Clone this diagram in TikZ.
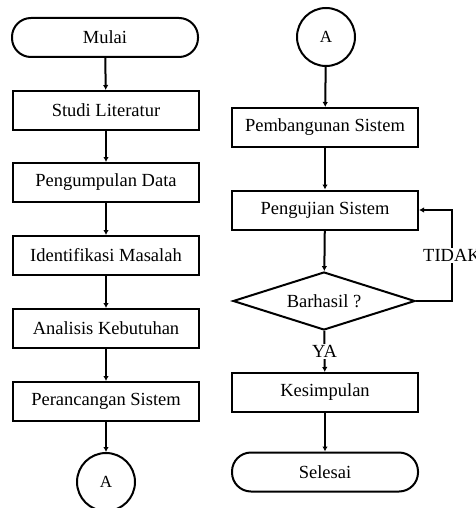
\documentclass[tikz,border=0pt]{standalone}
\usepackage{fontspec}
\setmainfont{Liberation Serif}
\usetikzlibrary{shapes.geometric,arrows.meta}
\begin{document}
\begin{tikzpicture}[x=1pt,y=-1pt,
  every node/.style={font=\fontsize{18.5}{20}\selectfont},
  process/.style={draw,line width=2pt,minimum width=186pt,minimum height=39pt,inner sep=0pt},
  terminal/.style={process,rounded corners=19pt},
  connector/.style={draw,circle,line width=2pt,minimum size=58pt,inner sep=0pt,font=\fontsize{17}{18}\selectfont},
  decision/.style={draw,diamond,aspect=3.14,line width=2pt,minimum width=182pt,minimum height=58pt,inner sep=0pt},
  flow/.style={line width=2pt,-{Latex[length=5pt,width=5.5pt]}},
  lbl/.style={fill=white,inner sep=1pt}]
\useasboundingbox[fill=white] (0,0) rectangle (475,508);

% left column
\node[terminal] (mulai) at (105,37.5) {Mulai};
\node[process] (studi) at (106,110.5) {Studi Literatur};
\node[process] (data) at (106,182.5) {Pengumpulan Data};
\node[process] (identifikasi) at (106,255.5) {Identifikasi Masalah};
\node[process] (analisis) at (106,328.5) {Analisis Kebutuhan};
\node[process] (perancangan) at (106,401.5) {Perancangan Sistem};
\node[connector] (a1) at (106,482) {A};

\draw[flow] (mulai) -- (studi);
\draw[flow] (studi) -- (data);
\draw[flow] (data) -- (identifikasi);
\draw[flow] (identifikasi) -- (analisis);
\draw[flow] (analisis) -- (perancangan);
\draw[flow] (perancangan) -- (a1);

% right column
\node[connector] (a2) at (326,37) {A};
\node[process] (pembangunan) at (325,127.5) {Pembangunan Sistem};
\node[process] (pengujian) at (325,210) {Pengujian Sistem};
\node[decision] (cek) at (324,301) {Barhasil ?};
\node[process] (kesimpulan) at (325,392.5) {Kesimpulan};
\node[terminal] (selesai) at (325,472) {Selesai};
\coordinate (loop) at (452,301);

\draw[flow] (a2) -- (pembangunan);
\draw[flow] (pembangunan) -- (pengujian);
\draw[flow] (pengujian) -- (cek);
\draw[flow] (cek) -- node[lbl] {YA} (kesimpulan);
\draw[flow] (kesimpulan) -- (selesai);
\draw[flow] (cek.east) -- (loop) |- node[lbl,pos=0.25] {TIDAK} (pengujian.east);
\end{tikzpicture}
\end{document}
